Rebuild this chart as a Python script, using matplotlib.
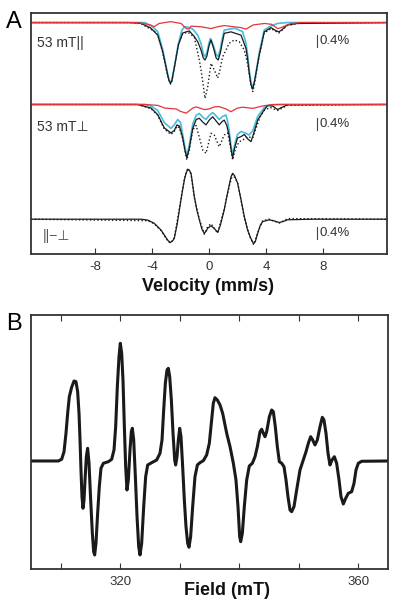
import matplotlib
matplotlib.use("Agg")
import matplotlib.pyplot as plt

plt.rcParams["font.family"] = ["Liberation Sans", "DejaVu Sans"]
plt.rcParams["axes.unicode_minus"] = False

# ---- panel A: velocity (mm/s) vs absorption depth (%) --------------------
# top trace, 53 mT parallel
par_fit_v = [-12.5, -5.6, -4.8, -4.1, -3.6, -3.25, -2.9, -2.8, -2.7, -2.6, -2.44,
             -2.15, -1.85, -1.6, -1.38, -1.03, -0.79, -0.56, -0.4, -0.28, -0.15,
             0.0, 0.14, 0.3, 0.5, 0.65, 0.8, 0.9, 1.07, 1.54, 2.25, 2.6, 2.72,
             2.83, 2.95, 3.07, 3.2, 3.53, 3.88, 4.35, 4.7, 4.9, 5.1, 5.5, 6.2, 12.5]
par_fit_d = [0, 0, 0.02, 0.18, 0.42, 0.97, 1.75, 1.95, 2.03, 1.92, 1.52,
             0.75, 0.35, 0.31, 0.28, 0.47, 0.64, 0.92, 1.18, 1.25, 1.12,
             0.78, 0.58, 0.82, 1.18, 1.25, 1.0, 0.75, 0.36, 0.31, 0.42, 0.87, 1.25,
             1.7, 2.08, 2.22, 1.95, 1.08, 0.31, 0.17, 0.27, 0.31, 0.25, 0.08, 0.03, 0]
par_cyan_v = [-12.5, -4.5, -4.0, -3.6, -3.25, -2.9, -2.8, -2.7, -2.6, -2.44, -2.15,
              -1.9, -1.73, -1.4, -1.14, -0.79, -0.56, -0.4, -0.28, -0.15, 0.0, 0.1,
              0.3, 0.5, 0.65, 0.8, 0.9, 1.07, 1.8, 2.36, 2.6, 2.72, 2.83, 2.95, 3.07,
              3.2, 3.53, 3.88, 4.23, 4.8, 5.5, 12.5]
par_cyan_d = [0, 0, 0.13, 0.3, 0.9, 1.72, 1.93, 2.0, 1.9, 1.5, 0.7,
              0.25, 0.14, 0.16, 0.22, 0.42, 0.7, 1.05, 1.13, 1.0, 0.68, 0.53,
              0.75, 1.06, 1.13, 0.88, 0.6, 0.25, 0.19, 0.3, 0.7, 1.1, 1.6, 2.0, 2.17,
              1.95, 1.0, 0.25, 0.14, 0.03, 0, 0]
par_red_v = [-12.5, -5.0, -4.1, -3.86, -3.5, -2.7, -1.96, -1.6, -1.4, -1.26, -0.56,
             0.14, 0.6, 1.07, 2.25, 2.6, 3.1, 3.9, 4.4, 4.82, 5.0, 5.75, 6.5, 12.5]
par_red_d = [0, 0, 0.08, 0.14, 0.03, -0.03, 0.03, 0.2, 0.22, 0.12, 0.14,
             0.2, 0.14, 0.1, 0.17, 0.22, 0.08, 0.03, 0.06, 0.2, 0.18, 0.03, 0, 0]
par_obs_v = [-12.5, -5.6, -4.8, -4.1, -3.8, -3.6, -3.25, -2.9, -2.7, -2.6, -2.44,
             -2.15, -1.85, -1.6, -1.38, -1.03, -0.68, -0.56, -0.44, -0.28, -0.09,
             0.14, 0.37, 0.61, 0.72, 0.96, 1.19, 1.42, 1.78, 2.13, 2.48, 2.72, 2.95,
             3.07, 3.2, 3.53, 3.88, 4.35, 4.9, 5.5, 6.2, 12.5]
par_obs_d = [0, 0, 0.03, 0.22, 0.3, 0.4, 1.0, 1.8, 2.05, 1.95, 1.5,
             0.72, 0.38, 0.33, 0.35, 0.5, 1.25, 1.58, 1.97, 2.53, 2.14,
             1.36, 1.58, 1.85, 1.68, 1.14, 0.92, 0.69, 0.58, 0.64, 0.92, 1.4, 2.1,
             2.3, 2.05, 1.1, 0.35, 0.2, 0.35, 0.1, 0.03, 0]

# middle trace, 53 mT perpendicular
perp_fit_v = [-12.5, -5.0, -4.07, -3.6, -3.14, -2.67, -2.44, -2.25, -2.08, -1.85,
              -1.7, -1.56, -1.4, -1.14, -0.9, -0.68, -0.45, -0.21, 0.02, 0.26, 0.5,
              0.72, 0.9, 1.07, 1.25, 1.42, 1.55, 1.66, 1.8, 2.0, 2.25, 2.48, 2.72,
              2.95, 3.18, 3.42, 3.88, 4.12, 4.5, 4.82, 5.1, 5.52, 12.5]
perp_fit_d = [0, 0, 0.12, 0.34, 0.78, 0.95, 0.87, 0.68, 0.72, 1.1,
              1.5, 1.78, 1.5, 0.8, 0.5, 0.46, 0.58, 0.68, 0.52, 0.41, 0.55,
              0.68, 0.58, 0.52, 0.7, 1.05, 1.5, 1.78, 1.45, 1.12, 1.07, 1.0, 1.15,
              1.24, 0.9, 0.52, 0.18, 0.03, 0.06, 0.17, 0.1, 0.01, 0]
perp_cyan_v = [-12.5, -4.5, -4.07, -3.6, -3.14, -2.67, -2.44, -2.2, -2.0, -1.85,
               -1.7, -1.56, -1.4, -1.14, -0.9, -0.68, -0.45, -0.21, 0.02, 0.26, 0.5,
               0.72, 0.95, 1.19, 1.3, 1.42, 1.55, 1.66, 1.8, 2.0, 2.25, 2.55, 2.81,
               3.07, 3.42, 3.88, 4.3, 5.0, 12.5]
perp_cyan_d = [0, 0, 0.05, 0.2, 0.6, 0.8, 0.68, 0.5, 0.6, 1.0,
               1.4, 1.7, 1.4, 0.65, 0.36, 0.3, 0.42, 0.5, 0.36, 0.27, 0.38,
               0.5, 0.4, 0.35, 0.55, 0.9, 1.4, 1.68, 1.35, 1.0, 0.9, 0.95, 1.02,
               0.88, 0.4, 0.1, 0.02, 0, 0]
perp_red_v = [-12.5, -4.5, -3.6, -3.1, -2.3, -2.0, -1.6, -1.14, -0.9, -0.33, 0.0,
              0.37, 0.7, 1.2, 1.54, 2.0, 2.36, 3.07, 3.77, 4.5, 12.5]
perp_red_d = [0, 0, 0.03, 0.12, 0.15, 0.23, 0.29, 0.12, 0.08, 0.17, 0.15,
              0.08, 0.07, 0.15, 0.24, 0.12, 0.09, 0.13, 0.05, 0, 0]
perp_obs_v = [-12.5, -5.0, -4.07, -3.6, -3.14, -2.67, -2.44, -2.25, -2.08, -1.85,
              -1.56, -1.4, -1.14, -0.9, -0.79, -0.44, -0.21, 0.14, 0.37, 0.72, 1.07,
              1.31, 1.5, 1.66, 1.85, 2.1, 2.36, 2.72, 3.07, 3.3, 3.6, 3.88, 4.3,
              4.82, 5.5, 12.5]
perp_obs_d = [0, 0, 0.14, 0.36, 0.82, 1.0, 0.9, 0.72, 0.78, 1.15,
              1.85, 1.55, 0.85, 0.7, 0.9, 1.52, 1.63, 0.96, 1.02, 1.41, 1.02,
              0.95, 1.4, 1.85, 1.5, 1.25, 1.19, 1.07, 1.12, 0.8, 0.4, 0.2, 0.1,
              0.2, 0.03, 0]

# bottom trace, parallel minus perpendicular (positive = up)
diff_fit_v = [-12.5, -4.77, -4.3, -3.86, -3.37, -2.9, -2.72, -2.55, -2.44, -2.25,
              -2.08, -1.9, -1.73, -1.6, -1.49, -1.38, -1.26, -1.03, -0.85, -0.68,
              -0.5, -0.33, -0.2, -0.09, 0.14, 0.35, 0.61, 0.8, 1.07, 1.25, 1.42,
              1.55, 1.66, 1.8, 2.01, 2.25, 2.48, 2.7, 2.9, 3.13, 3.25, 3.42, 3.6,
              3.77, 4.23, 4.6, 4.93, 5.2, 5.52, 7.2, 12.5]
diff_fit_s = [0, 0, -0.03, -0.13, -0.36, -0.7, -0.78, -0.72, -0.64, -0.2,
              0.31, 0.85, 1.31, 1.55, 1.67, 1.63, 1.53, 0.75, 0.3, -0.02,
              -0.33, -0.47, -0.4, -0.3, -0.22, -0.3, -0.44, -0.2, 0.31, 0.75, 1.14,
              1.42, 1.53, 1.45, 1.2, 0.65, 0.09, -0.35, -0.6, -0.82, -0.75, -0.47, -0.2,
              -0.08, -0.02, -0.06, -0.11, -0.08, -0.02, 0, 0]
diff_obs_v = [-12.5, -4.3, -3.86, -3.37, -2.9, -2.72, -2.44, -2.08, -1.73, -1.49,
              -1.26, -1.03, -0.68, -0.33, -0.09, 0.14, 0.61, 1.07, 1.42, 1.66,
              2.01, 2.48, 2.9, 3.13, 3.42, 3.77, 4.23, 4.93, 5.52, 12.5]
diff_obs_s = [0, -0.05, -0.15, -0.38, -0.72, -0.8, -0.62, 0.35, 1.35, 1.7,
              1.5, 0.72, 0.0, -0.5, -0.25, -0.15, -0.46, 0.35, 1.1, 1.5,
              1.22, 0.05, -0.62, -0.85, -0.45, -0.05, 0.0, -0.13, 0.02, 0]

vel_ticks = [-8, -4, 0, 4, 8]

# ---- panel B: EPR derivative spectrum (field in mT, arbitrary signal) ----
b_field = [305.0, 309.59, 310.15, 310.55, 310.88, 311.16, 311.44, 311.83, 312.23,
           312.56, 312.84, 313.07, 313.24, 313.40, 313.57, 313.74, 313.91, 314.08,
           314.30, 314.52, 314.75, 315.03, 315.31, 315.53, 315.70, 315.92, 316.20,
           316.48, 316.76, 317.16, 318.00, 318.56, 318.95, 319.23, 319.51, 319.79,
           320.01, 320.24, 320.46, 320.69, 320.91, 321.13, 321.36, 321.64, 321.86,
           322.03, 322.26, 322.54, 322.82, 323.10, 323.32, 323.60, 323.94, 324.27,
           324.61, 325.28, 326.12, 326.68, 327.02, 327.30, 327.58, 327.86, 328.08,
           328.31, 328.59, 328.87, 329.15, 329.31, 329.54, 329.76, 329.99, 330.21,
           330.49, 330.77, 331.05, 331.33, 331.55, 331.83, 332.17, 332.56, 332.96,
           333.40, 333.96, 334.52, 334.97, 335.36, 335.64, 335.92, 336.32, 336.77,
           337.21, 337.89, 338.45, 339.01, 339.45, 339.79, 340.07, 340.24, 340.52,
           340.85, 341.25, 341.69, 342.20, 342.65, 343.04, 343.49, 343.77, 344.05,
           344.33, 344.61, 345.06, 345.45, 345.73, 346.06, 346.40, 346.74, 347.13,
           347.52, 347.86, 348.19, 348.53, 348.81, 349.20, 349.65, 350.21, 350.77,
           351.22, 351.61, 352.00, 352.34, 352.73, 353.12, 353.57, 353.96, 354.24,
           354.58, 354.92, 355.25, 355.59, 355.98, 356.37, 356.77, 357.10, 357.49,
           357.89, 358.33, 358.89, 359.29, 359.62, 360.01, 360.57, 365.0]
b_signal = [0, 0, 1.7, 9.3, 27.7, 47.7, 64.3, 73.7, 80,
            79.3, 69.3, 47.7, 21, -9, -35.7, -47.3, -39, -19,
            4.3, 12.7, -2.3, -39, -72.3, -90.7, -94, -82.3, -52.3,
            -25.7, -7.3, -2.3, -0.7, 1.7, 11, 34.3, 74.3, 104.3,
            117.7, 107.7, 81, 34.3, -5.7, -29, -19, 11, 29.3,
            32.7, 21, -15.7, -55.7, -85.7, -94, -82.3, -45.7, -15.7,
            -4, -1.7, 1, 7.7, 21, 51, 77.7, 91, 92.7,
            84.3, 61, 27.7, 1, -4, 4.3, 21, 32.7, 24.3,
            -5.7, -39, -65.7, -82.3, -86.3, -75.7, -45.7, -15.7, -4,
            -1.7, 0.3, 6, 17.7, 41, 57.7, 63.3, 61, 56,
            47.7, 27.7, 14.3, -2.3, -19, -45.7, -75.7, -80.7, -72.3,
            -45.7, -19, -5, -2.3, 4.3, 14.3, 29.3, 31.7, 27.7,
            24.3, 29.3, 44.3, 51, 49.3, 34.3, 14.3, -0.7, -2.3,
            -5.7, -19, -35.7, -49, -50.7, -45.7, -29, -9, 1,
            9.3, 17.7, 24.3, 21, 16, 21, 34.3, 43.7, 41,
            27.7, 7.7, -4, 1, 4.3, -2.3, -19, -35.7, -43,
            -37.3, -32.3, -30.7, -22.3, -9, -2.3, -0.3, 0]
field_ticks = [310, 320, 330, 340, 350, 360]
field_labels = ["", "320", "", "", "", "360"]

BLACK = "#1a1a1a"
CYAN = "#45bde0"
RED = "#e2343c"
FRAME = "#333333"

fig = plt.figure(figsize=(4.0, 6.06), dpi=100)
axA = fig.add_axes([0.0775, 0.5809, 0.89, 0.3977])
axB = fig.add_axes([0.0775, 0.0611, 0.8925, 0.4191])

# vertical offsets (%) of the three stacked traces
offsets = {"par": 0.0, "perp": -2.733, "diff": -6.56}


def dn(vals, off):
    return [off - v for v in vals]


def up(vals, off):
    return [off + v for v in vals]


o = offsets["par"]
axA.plot(par_obs_v, dn(par_obs_d, o), ls=":", color=BLACK, lw=1.0)
axA.plot(par_cyan_v, dn(par_cyan_d, o), color=CYAN, lw=1.2)
axA.plot(par_fit_v, dn(par_fit_d, o), color=BLACK, lw=0.9)
axA.plot(par_red_v, dn(par_red_d, o), color=RED, lw=0.9)

o = offsets["perp"]
axA.plot(perp_obs_v, dn(perp_obs_d, o), ls=":", color=BLACK, lw=1.0)
axA.plot(perp_cyan_v, dn(perp_cyan_d, o), color=CYAN, lw=1.2)
axA.plot(perp_fit_v, dn(perp_fit_d, o), color=BLACK, lw=0.9)
axA.plot(perp_red_v, dn(perp_red_d, o), color=RED, lw=0.9)

o = offsets["diff"]
axA.plot(diff_obs_v, up(diff_obs_s, o), ls=":", color=BLACK, lw=1.0)
axA.plot(diff_fit_v, up(diff_fit_s, o), color=BLACK, lw=0.9)

# 0.4 % scale bars
for centre in (-0.61, -3.40, -7.02):
    axA.plot([7.58, 7.58], [centre - 0.2, centre + 0.2], color="#444444", lw=0.8)
    axA.text(7.78, centre, "0.4%", fontsize=9.5, color="#333333",
             ha="left", va="center")

axA.text(-12.1, -0.67, "53 mT||", fontsize=10, color="#333333", va="center")
axA.text(-12.1, -3.48, "53 mT\u22a5", fontsize=10, color="#333333", va="center")
axA.text(-11.7, -7.12, "||\u2212\u22a5", fontsize=10, color="#555555", va="center")

axA.set_xlim(-12.5, 12.5)
axA.set_ylim(-7.72, 0.32)
axA.set_xticks(vel_ticks)
axA.set_xticklabels([str(t) for t in vel_ticks])
axA.set_yticks([])
axA.tick_params(axis="x", direction="in", length=4, width=0.8, pad=5,
                labelsize=9.5, colors=FRAME)
axA.text(0.496, -0.135, "Velocity (mm/s)", transform=axA.transAxes,
         fontsize=13, fontweight="bold", ha="center", va="center", color="#111111")

axB.plot(b_field, b_signal, color=BLACK, lw=2.2, solid_joinstyle="round")
axB.set_xlim(305, 365)
axB.set_ylim(-108, 146)
axB.set_xticks(field_ticks)
axB.set_xticklabels(field_labels)
axB.set_yticks([])
axB.tick_params(axis="x", direction="in", length=4, width=0.8, pad=5,
                labelsize=9.5, top=True, colors=FRAME)
axB.text(0.548, -0.083, "Field (mT)", transform=axB.transAxes,
         fontsize=13, fontweight="bold", ha="center", va="center", color="#111111")

for ax in (axA, axB):
    for sp in ax.spines.values():
        sp.set_color(FRAME)
        sp.set_linewidth(1.3)

fig.text(14 / 400, 1 - 21.5 / 606, "A", fontsize=17, ha="center", va="center")
fig.text(14 / 400, 1 - 324 / 606, "B", fontsize=17, ha="center", va="center")

fig.savefig("out.png", dpi=100)
